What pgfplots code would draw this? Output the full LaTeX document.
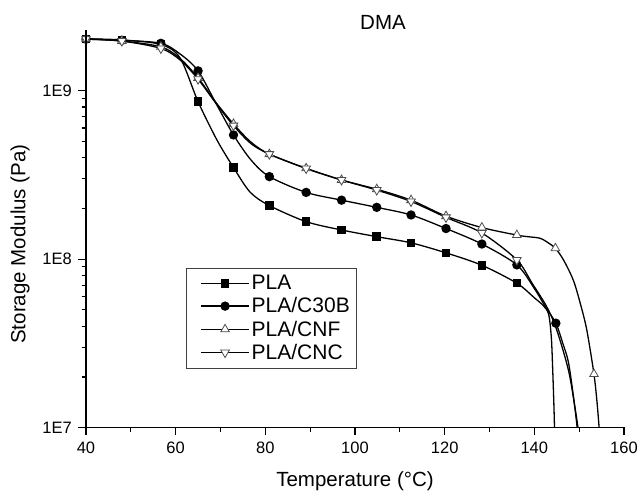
\documentclass[border=0pt]{standalone}
\usepackage{pgfplots}
\pgfplotsset{compat=1.18}
\usepackage{fontspec}
\setmainfont{Liberation Sans}
\begin{document}
\begin{tikzpicture}
\path[use as bounding box] (0,0) rectangle (640pt,491pt);
\begin{axis}[
  at={(86pt,63.3pt)}, anchor=south west,
  scale only axis, width=538pt, height=396.7pt,
  xmin=40, xmax=160, ymode=log, ymin=1e7, ymax=2.26e9,
  axis line style={draw=none},
  extra description/.code={\draw[line width=1.3pt, black, line cap=rect] (rel axis cs:0,1) -- (rel axis cs:0,0) -- (rel axis cs:1,0);},
  clip=false,
  xtick pos=left, ytick pos=left,
  xtick={40,60,...,160}, minor xtick={50,70,...,150},
  ytick={1e7,1e8,1e9}, yticklabels={1E7,1E8,1E9},
  minor ytick={2e7,3e7,4e7,5e7,6e7,7e7,8e7,9e7,2e8,3e8,4e8,5e8,6e8,7e8,8e8,9e8,2e9},
  tick align=outside, major tick length=7.5pt, minor tick length=4.5pt,
  major tick style={line width=1.2pt, black},
  minor tick style={line width=1.1pt, black},
  tick label style={font=\fontsize{16.5}{19}\selectfont},
  xticklabel style={anchor=north, inner sep=0pt, yshift=-6.5pt},
  yticklabel style={anchor=east, inner sep=0pt, xshift=-6.5pt},
  /pgf/number format/assume math mode=true,
  xlabel={Temperature (°C)}, ylabel={Storage Modulus (Pa)},
  every axis x label/.style={at={(axis description cs:0.5,-0.147)}, anchor=base, font=\fontsize{20.5}{24}\selectfont},
  every axis y label/.style={at={(axis description cs:-0.1227,0.463)}, anchor=center, rotate=90, font=\fontsize{20.5}{24}\selectfont},
  title={DMA},
  title style={at={(axis description cs:0.552,1.0)}, anchor=base, inner sep=0pt, yshift=-5pt, font=\fontsize{20.5}{24}\selectfont},
  legend style={at={(rel axis cs:0.186,0.4026)}, anchor=north west, draw=black!75, line width=0.7pt,
     font=\fontsize{21}{24}\selectfont, inner xsep=5pt, inner ysep=5pt, row sep=2.5pt},
  legend cell align=left,
  legend image code/.code={\path (0pt,0pt); \draw[#1, mark indices={2}] plot coordinates {(9pt,0pt) (33pt,0pt) (57pt,0pt)};},
]
\addplot[black, line width=1.3pt, smooth, mark=square*, mark size=3.6pt, mark options={solid, fill=black},
  mark indices={1,2,3,5,7,9,10,11,12,13,14,15,16}] coordinates {
(40,2.03e9) (48,2.0e9) (56.7,1.88e9) (61,1.56e9) (65,8.6e8) (69.2,5.1e8) (72.9,3.5e8) (76.6,2.5e8)
(80.9,2.08e8) (89.1,1.67e8) (97,1.49e8) (104.85,1.36e8) (112.5,1.25e8) (120.3,1.09e8) (128.3,9.2e7)
(136.1,7.2e7) (140,5.9e7) (142,5.3e7) (143.2,4.7e7) (143.8,3.4e7) (144.1,2.2e7) (144.35,1.4e7) (144.5,1.0e7)
};
\addlegendentry{PLA}
\addplot[black, line width=1.3pt, smooth, mark=*, mark size=4pt, mark options={solid, fill=black},
  mark indices={1,2,3,5,7,9,10,11,12,13,14,15,16,19}] coordinates {
(40,2.02e9) (48,1.99e9) (56.7,1.91e9) (61,1.65e9) (65,1.31e9) (69,8.4e8) (72.9,5.46e8) (76.8,3.88e8)
(80.9,3.09e8) (89.1,2.49e8) (97,2.24e8) (104.85,2.03e8) (112.5,1.83e8) (120.3,1.52e8) (128.3,1.23e8)
(136.1,9.25e7) (140,6.7e7) (142.5,5.2e7) (144.8,4.17e7) (146.3,3.2e7) (147.6,2.45e7) (148.7,1.55e7) (149.3,1.15e7) (149.55,1.0e7)
};
\addlegendentry{PLA/C30B}
\addplot[black, line width=1.3pt, smooth, mark=triangle*, mark size=5pt, mark options={solid, fill=white, draw=black!70, line width=0.8pt},
  mark indices={1,2,3,5,7,9,10,11,12,13,14,15,16,20,25}] coordinates {
(40,2.03e9) (48,1.97e9) (56.7,1.82e9) (61,1.55e9) (65,1.19e9) (69,8.5e8) (72.9,6.34e8) (76.8,4.95e8)
(80.9,4.2e8) (89.1,3.46e8) (97,2.95e8) (104.85,2.6e8) (112.5,2.24e8) (120.3,1.8e8) (128.3,1.54e8)
(136.1,1.39e8) (138.5,1.36e8) (141.3,1.33e8) (143.3,1.24e8) (144.7,1.16e8) (146.5,9.9e7) (148.7,7.5e7)
(150.3,5.4e7) (151.7,3.8e7) (153.3,2.08e7) (154.0,1.4e7) (154.45,1.0e7)
};
\addlegendentry{PLA/CNF}
\addplot[black, line width=1.3pt, smooth, mark=triangle*, mark size=5pt, mark options={solid, fill=white, draw=black!70, line width=0.8pt, rotate=180},
  mark indices={1,2,3,5,7,9,10,11,12,13,14,15,16}] coordinates {
(40,2.02e9) (48,1.97e9) (56.7,1.78e9) (61,1.52e9) (65,1.17e9) (69,8.4e8) (72.9,6.2e8) (76.8,4.85e8)
(80.9,4.2e8) (89.1,3.45e8) (97,2.95e8) (104.85,2.57e8) (112.5,2.2e8) (120.3,1.77e8) (128.3,1.43e8)
(136.1,9.9e7) (139.5,7.2e7) (142.8,5.2e7) (145,3.8e7) (147.6,2.2e7) (149.0,1.35e7) (149.75,1.0e7)
};
\addlegendentry{PLA/CNC}
\end{axis}
\end{tikzpicture}
\end{document}
